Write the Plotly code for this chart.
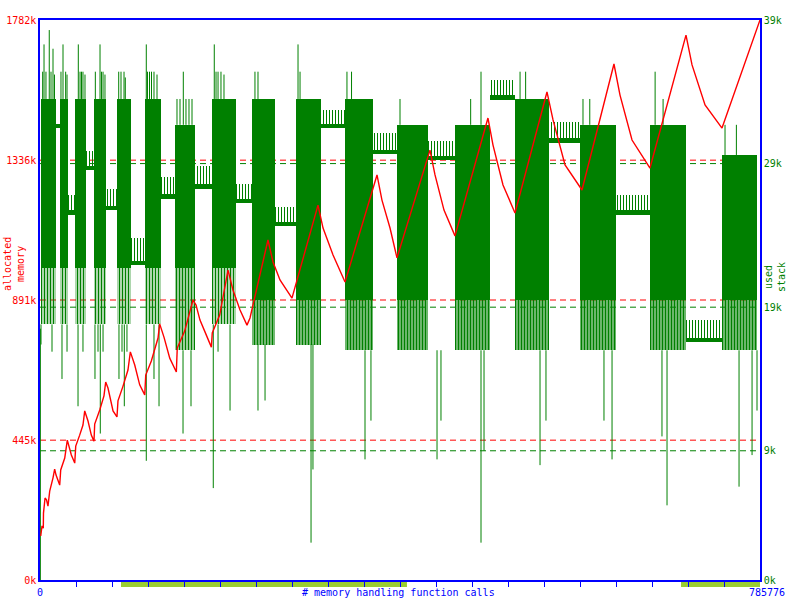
import plotly.graph_objects as go

GREEN = "#008000"
RED = "#ff0000"
BLUE = "#0000ff"
YG = "#9acd32"

# ---- memory (heap) series: x in thousands of calls, value in kB ----
mem_x = [0.8, 2.2, 3.6, 3.8, 5.5, 7.1, 8.7, 10.6, 14.2, 16.0, 17.5, 21.5, 22.6, 27.0, 29.8,
         34.2, 37.9, 39.0, 43.3, 46.9, 48.8, 52.4, 56.0, 58.9, 59.7, 65.2, 69.8, 71.7, 74.2,
         79.7, 84.0, 85.1, 90.6, 96.0, 98.6, 103.4, 108.8, 114.3, 115.4, 121.5, 128.8, 130.6,
         135.3, 141.6, 148.8, 149.8, 157.9, 167.0, 170.3, 174.6, 179.7, 187.0, 188.0, 196.1,
         205.2, 210.6, 218.3, 225.9, 229.2, 248.8, 254.3, 261.9, 275.0, 303.4, 308.9, 319.8,
         332.9, 367.8, 373.2, 382.0, 389.6, 425.6, 431.1, 440.9, 452.9, 488.9, 494.4, 505.3,
         518.4, 553.3, 559.9, 573.0, 591.5, 626.4, 633.0, 646.1, 665.7, 705.0, 711.6, 725.8,
         744.3, 785.776]
mem_kb = [140, 172, 165, 213, 261, 255, 235, 283, 325, 353, 334, 302, 350, 388, 445,
          398, 372, 426, 461, 493, 538, 506, 461, 442, 496, 541, 586, 630, 611,
          538, 519, 570, 617, 668, 726, 684, 621, 589, 652, 697, 770, 815,
          773, 706, 662, 738, 792, 891, 875, 827, 792, 741, 786, 843,
          986, 923, 859, 811, 834, 1082, 1012, 955, 897, 1193, 1120, 1034,
          948, 1289, 1209, 1120, 1025, 1368, 1289, 1177, 1095, 1470, 1384, 1257,
          1168, 1553, 1464, 1321, 1241, 1642, 1543, 1400, 1311, 1734, 1639, 1512,
          1438, 1782]

# ---- stack series (k) ----
# dense bursts: solid core and fringe below it
burst_x0 = [1.1, 21.8, 38.2, 58.9, 84.0, 114.6, 147.3, 187.7, 231.4, 279.4, 332.9, 389.6, 452.9, 518.4, 589.3, 665.7, 744.3]
burst_x1 = [17.5, 30.6, 50.2, 72.0, 99.3, 132.1, 169.2, 213.9, 256.5, 306.7, 363.4, 423.4, 491.1, 555.5, 628.6, 705.0, 782.5]
burst_top = [33.5, 33.5, 33.5, 33.5, 33.5, 33.5, 31.7, 33.5, 33.5, 33.5, 33.5, 31.7, 31.7, 33.5, 31.7, 31.7, 29.6]
burst_bottom = [21.7, 21.7, 21.7, 21.7, 21.7, 21.7, 21.7, 21.7, 19.5, 19.5, 19.5, 19.5, 19.5, 19.5, 19.5, 19.5, 19.5]
fringe_bottom = [17.8, 17.8, 17.8, 17.8, 17.8, 17.8, 16.0, 17.8, 16.4, 16.4, 16.0, 16.0, 16.0, 16.0, 16.0, 16.0, 16.0]
fringe_density = [0.55, 0.55, 0.55, 0.55, 0.55, 0.55, 0.6, 0.55, 0.7, 0.7, 0.72, 0.72, 0.72, 0.72, 0.72, 0.72, 0.72]

# plateaus between bursts
plat_x0 = [17.5, 30.6, 50.2, 72.0, 99.3, 132.1, 169.2, 213.9, 256.5, 306.7, 363.4, 423.4, 491.1, 555.5, 628.6, 705.0]
plat_x1 = [21.8, 38.2, 58.9, 84.0, 114.6, 147.3, 187.7, 231.4, 279.4, 332.9, 389.6, 452.9, 518.4, 589.3, 665.7, 744.3]
plat_k = [31.6, 25.6, 28.7, 25.9, 22.1, 26.7, 27.4, 26.4, 24.8, 31.6, 29.8, 29.4, 33.6, 30.6, 25.6, 16.7]
comb_k = [31.6, 26.8, 29.9, 27.2, 23.8, 28.1, 28.8, 27.6, 26.0, 32.7, 31.1, 30.6, 34.8, 31.9, 26.8, 18.1]

# isolated strokes
spike_x = [0.4,
           2.9, 4.4, 6.5, 10.1, 12.0, 14.2, 15.8, 22.9, 25.1, 28.0, 29.5,
           41.8, 43.7, 45.3, 46.9, 49.1, 60.4, 65.5, 67.1, 68.8, 70.9,
           85.9, 88.4, 91.7, 93.1, 116.0, 117.3, 119.5, 121.7, 124.4, 127.7,
           149.5, 152.8, 156.4, 159.3, 162.6, 165.9, 190.2, 192.1, 194.3, 197.5, 200.8,
           234.6, 237.9, 281.6, 283.8, 335.0, 340.0, 392.9, 470.0, 481.3, 523.9, 530.0,
           592.6, 600.0, 671.3, 680.0, 747.6, 760.0,
           1.1, 13.1, 24.0, 29.5, 41.5, 46.9, 60.0, 63.3, 65.8, 68.8, 86.2, 89.5, 92.0, 94.9,
           116.0, 124.4, 129.9, 156.1, 164.8, 189.1, 194.3, 207.4, 237.9, 245.6, 295.8, 297.9,
           354.7, 361.2, 433.3, 437.6, 481.3, 484.6, 545.7, 552.2, 615.5, 624.3, 678.8, 684.3,
           762.9, 777.1, 782.5]
spike_lo = [0.0,
            33.5, 33.5, 33.5, 33.5, 33.5, 33.5, 33.5, 33.5, 33.5, 33.5, 33.5,
            33.5, 33.5, 33.5, 33.5, 33.5, 33.5, 33.5, 33.5, 33.5, 33.5,
            33.5, 33.5, 33.5, 33.5, 33.5, 33.5, 33.5, 33.5, 33.5, 33.5,
            31.7, 31.7, 31.7, 31.7, 31.7, 31.7, 33.5, 33.5, 33.5, 33.5, 33.5,
            33.5, 33.5, 33.5, 33.5, 33.5, 33.5, 31.7, 31.7, 31.7, 33.5, 33.5,
            31.7, 31.7, 31.7, 31.7, 29.6, 29.6,
            16.4, 15.9, 14.0, 15.9, 12.1, 15.9, 14.0, 15.9, 10.2, 15.9, 14.0, 15.9, 12.1, 15.9,
            8.3, 14.0, 12.1, 10.2, 12.1, 6.4, 15.9, 11.8, 11.8, 12.5, 2.6, 7.7,
            8.4, 11.1, 8.4, 11.1, 2.6, 9.0, 8.0, 11.1, 11.1, 8.4, 10.0, 5.2,
            6.5, 8.7, 11.8]
spike_hi = [17.5,
            35.4, 37.3, 35.4, 38.3, 35.4, 37.0, 35.2, 35.4, 37.3, 35.4, 35.2,
            37.3, 35.4, 35.4, 35.4, 35.2, 35.4, 37.3, 35.4, 35.4, 35.2,
            35.4, 35.4, 35.4, 35.0, 37.3, 35.4, 35.4, 35.4, 35.4, 35.2,
            33.5, 33.5, 35.4, 33.5, 33.5, 33.5, 37.3, 35.4, 35.4, 35.4, 35.2,
            35.4, 35.4, 37.3, 35.4, 35.4, 35.4, 33.5, 33.5, 35.4, 35.4, 35.4,
            33.5, 33.5, 35.4, 33.5, 31.7, 31.7,
            17.8, 17.8, 17.8, 17.8, 17.8, 17.8, 17.8, 17.8, 17.8, 17.8, 17.8, 17.8, 17.8, 17.8,
            17.8, 17.8, 17.8, 16.0, 16.0, 17.8, 17.8, 17.8, 16.4, 16.4, 16.4, 16.4,
            16.0, 16.0, 16.0, 16.0, 16.0, 16.0, 16.0, 16.0, 16.0, 16.0, 16.0, 16.0,
            16.0, 16.0, 16.0]

# reference levels and axis labels
mem_levels = [445, 891, 1336]
stack_levels = [9, 19, 29]
mem_ticks = [0, 445, 891, 1336, 1782]
mem_ticktext = ["0k", "445k", "891k", "1336k", "1782k"]
stack_ticks = [0, 9, 19, 29, 39]
stack_ticktext = ["0k", "9k", "19k", "29k", "39k"]
X_MAX = 785.776
x_tick_count = 20
highlight_x0 = [88.4, 699.6]
highlight_x1 = [400.5, 785.776]

FONT = "DejaVu Sans Mono"

fig = go.Figure()

burst_c = [(a + b) / 2 for a, b in zip(burst_x0, burst_x1)]
burst_w = [b - a for a, b in zip(burst_x0, burst_x1)]
# solid cores of bursts
fig.add_bar(x=burst_c, y=[t - b for t, b in zip(burst_top, burst_bottom)],
            base=burst_bottom, width=burst_w,
            marker=dict(color=GREEN, line=dict(width=0)), yaxis="y")
# fringes
fig.add_bar(x=burst_c, y=[t - b for t, b in zip(burst_bottom, fringe_bottom)],
            base=fringe_bottom, width=burst_w,
            marker=dict(color=GREEN, line=dict(width=0),
                        pattern=dict(shape="|", fgcolor=GREEN, bgcolor="rgba(0,0,0,0)",
                                     size=3, solidity=fringe_density, fillmode="replace")),
            yaxis="y")
plat_c = [(a + b) / 2 for a, b in zip(plat_x0, plat_x1)]
plat_w = [b - a for a, b in zip(plat_x0, plat_x1)]
# plateaus
fig.add_bar(x=plat_c, y=[0.3] * len(plat_k), base=[k - 0.15 for k in plat_k], width=plat_w,
            marker=dict(color=GREEN, line=dict(width=0)), yaxis="y")
# combs over plateaus
fig.add_bar(x=plat_c, y=[c - k for c, k in zip(comb_k, plat_k)], base=plat_k, width=plat_w,
            marker=dict(color=GREEN, line=dict(width=0),
                        pattern=dict(shape="|", fgcolor=GREEN, bgcolor="rgba(0,0,0,0)",
                                     size=3, solidity=0.35, fillmode="replace")),
            yaxis="y")
# isolated strokes
sx, sy = [], []
for x, lo, hi in zip(spike_x, spike_lo, spike_hi):
    sx += [x, x, None]
    sy += [lo, hi, None]
fig.add_scatter(x=sx, y=sy, mode="lines", line=dict(color=GREEN, width=1),
                yaxis="y", hoverinfo="skip")

# memory line on top
fig.add_scatter(x=mem_x, y=mem_kb, mode="lines", line=dict(color=RED, width=1.4),
                yaxis="y2")

shapes = []
for lv in mem_levels:
    shapes.append(dict(type="line", xref="x", yref="y2", x0=0, x1=X_MAX, y0=lv, y1=lv,
                       line=dict(color=RED, width=1, dash="6px,4px"), layer="below"))
for lv in stack_levels:
    shapes.append(dict(type="line", xref="x", yref="y", x0=0, x1=X_MAX, y0=lv, y1=lv,
                       line=dict(color=GREEN, width=1, dash="6px,4px"), layer="below"))
for a, b in zip(highlight_x0, highlight_x1):
    shapes.append(dict(type="rect", xref="x", yref="paper", x0=a, x1=b,
                       y0=-0.0125, y1=-0.0015, fillcolor=YG, line=dict(width=0), layer="below"))

annotations = [
    dict(text="0", x=0, y=-0.0232, xref="x", yref="paper", showarrow=False,
         font=dict(color=BLUE, family=FONT, size=10), xanchor="center", yanchor="middle"),
    dict(text="785776", x=1.0104, y=-0.0232, xref="paper", yref="paper", showarrow=False,
         font=dict(color=BLUE, family=FONT, size=10), xanchor="center", yanchor="middle"),
    dict(text="# memory handling function calls", x=0.4986, y=-0.0232, xref="paper",
         yref="paper", showarrow=False, font=dict(color=BLUE, family=FONT, size=10),
         xanchor="center", yanchor="middle"),
    dict(text="allocated<br>memory", x=-0.0361, y=0.5643, xref="paper", yref="paper",
         showarrow=False, textangle=-90, font=dict(color=RED, family=FONT, size=10),
         xanchor="center", yanchor="middle"),
    dict(text="used<br>stack", x=1.0208, y=0.541, xref="paper", yref="paper",
         showarrow=False, textangle=-90, font=dict(color=GREEN, family=FONT, size=10),
         xanchor="center", yanchor="middle"),
]

fig.update_layout(
    width=800, height=600,
    margin=dict(l=40, r=40, t=20, b=20, autoexpand=False),
    paper_bgcolor="white", plot_bgcolor="white",
    showlegend=False, barmode="overlay", bargap=0,
    font=dict(family=FONT, size=10),
    shapes=shapes, annotations=annotations,
    xaxis=dict(range=[0, X_MAX], showgrid=False, zeroline=False, showline=True,
               linecolor=BLUE, linewidth=1.5, mirror=True, ticks="outside", ticklen=5,
               tickcolor=BLUE, tickwidth=1, automargin=False,
               tickvals=[X_MAX * i / x_tick_count for i in range(1, x_tick_count)],
               showticklabels=False),
    yaxis=dict(range=[0, 39], side="right", showgrid=False, zeroline=False,
               showline=True, linecolor=BLUE, linewidth=1.5, ticks="", automargin=False,
               tickvals=stack_ticks, ticktext=stack_ticktext,
               tickfont=dict(color=GREEN, family=FONT, size=10)),
    yaxis2=dict(range=[0, 1782], side="left", overlaying="y", showgrid=False,
                zeroline=False, showline=True, linecolor=BLUE, linewidth=1.5, ticks="",
                automargin=False,
                tickvals=mem_ticks, ticktext=mem_ticktext,
                tickfont=dict(color=RED, family=FONT, size=10)),
)

fig.write_html("out.html")
